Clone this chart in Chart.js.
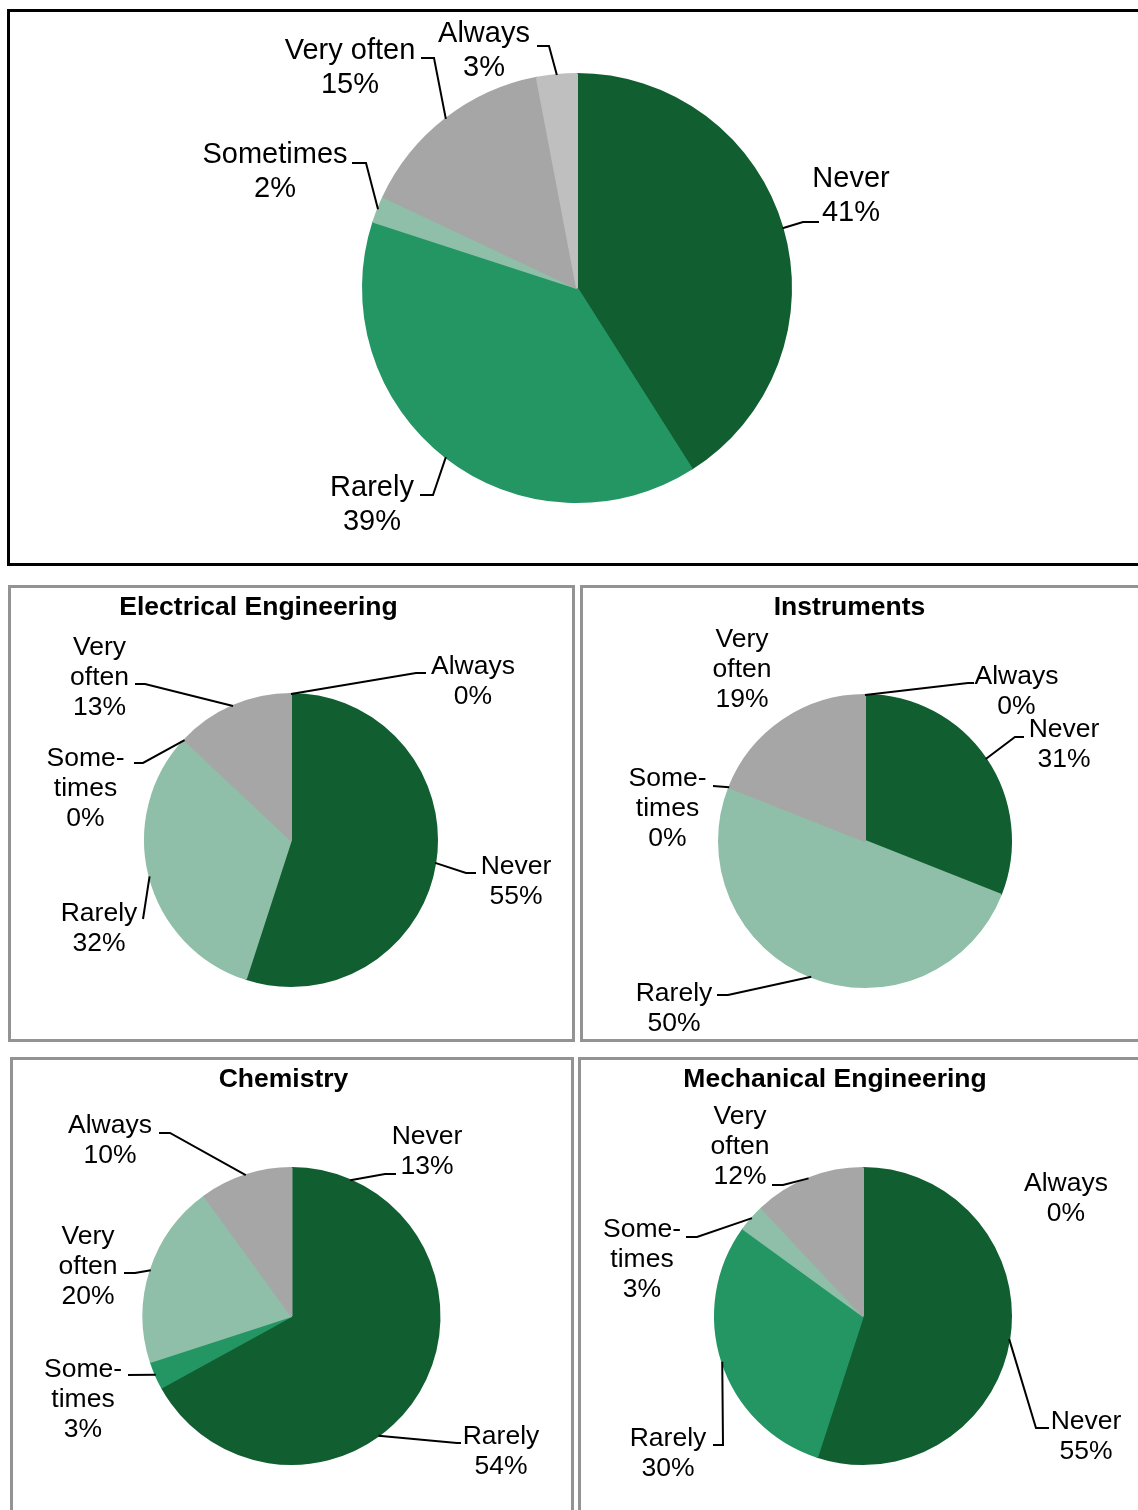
<!DOCTYPE html>
<html>
<head>
<meta charset="utf-8">
<script src="https://cdn.jsdelivr.net/npm/chart.js@4.4.1/dist/chart.umd.min.js"></script>
<style>
  body { margin: 0; background: #fff; }
  #page { position: relative; width: 1138px; height: 1510px; overflow: hidden; background: #fff; }
  .box { position: absolute; box-sizing: border-box; }
  .box.main { border: 3px solid #000; }
  .box.dept { border: 3px solid #939393; }
  canvas { position: absolute; left: 0; top: 0; }
</style>
</head>
<body>
<div id="page">
  <div class="box main" style="left:7px;top:9px;width:1150px;height:557px"></div>
  <div class="box dept" style="left:8px;top:585px;width:567px;height:457px"></div>
  <div class="box dept" style="left:580px;top:585px;width:580px;height:457px"></div>
  <div class="box dept" style="left:10px;top:1057px;width:564px;height:480px"></div>
  <div class="box dept" style="left:578px;top:1057px;width:580px;height:480px"></div>
  <canvas id="allChart" width="1138" height="1510"></canvas>
  <canvas id="electricalChart" width="1138" height="1510"></canvas>
  <canvas id="instrumentsChart" width="1138" height="1510"></canvas>
  <canvas id="chemistryChart" width="1138" height="1510"></canvas>
  <canvas id="mechanicalChart" width="1138" height="1510"></canvas>
</div>
<script>
// Answer categories and share (%) per group
const categories = ['Never', 'Rarely', 'Sometimes', 'Very often', 'Always'];
const allDepartments = [41, 39, 2, 15, 3];
const electrical = [55, 32, 0, 13, 0];
const instruments = [31, 50, 0, 19, 0];
const chemistry = [13, 54, 3, 20, 10];
const mechanical = [55, 30, 3, 12, 0];

const DARK = '#115e31', MID = '#249664', LIGHT = '#8fbfa8', GREY = '#a6a6a6', PALE = '#bfbfbf';

// long names are broken over lines in the small panels
const wrapped = { 'Very often': ['Very', 'often'], 'Sometimes': ['Some-', 'times'] };

const W = 1138, H = 1510;
const TEXT_SHIFT = 2;

// Callout labels with elbow leader lines, plus the panel title
const calloutPlugin = {
  id: 'callouts',
  afterDatasetsDraw(chart, args, opts) {
    const ctx = chart.ctx;
    const arcs = chart.getDatasetMeta(0).data;
    const values = chart.data.datasets[0].data;
    const names = chart.data.labels;
    ctx.save();
    ctx.fillStyle = '#000';
    ctx.textAlign = 'center';
    ctx.textBaseline = 'middle';
    if (opts.title) {
      ctx.font = 'bold ' + opts.fontSize + 'px "Liberation Sans", Arial, sans-serif';
      ctx.fillText(opts.title.text, opts.title.x, opts.title.y + TEXT_SHIFT);
    }
    ctx.font = opts.fontSize + 'px "Liberation Sans", Arial, sans-serif';
    ctx.strokeStyle = '#000';
    ctx.lineWidth = 2;
    opts.spots.forEach((spot, i) => {
      const a = arcs[i].getProps(['x', 'y', 'startAngle', 'endAngle', 'outerRadius'], true);
      const mid = (a.startAngle + a.endAngle) / 2;
      const ax = a.x + Math.cos(mid) * a.outerRadius;
      const ay = a.y + Math.sin(mid) * a.outerRadius;
      if (spot.elbow) {
        ctx.beginPath();
        ctx.moveTo(ax, ay);
        ctx.lineTo(spot.elbow[0], spot.elbow[1]);
        if (spot.end) ctx.lineTo(spot.end[0], spot.end[1]);
        ctx.stroke();
      }
      const name = names[i];
      const lines = (opts.wrap && wrapped[name]) ? wrapped[name].slice() : [name];
      lines.push(values[i] + '%');
      lines.forEach((t, k) => ctx.fillText(t, spot.x, spot.y + TEXT_SHIFT + k * opts.lineHeight));
    });
    ctx.restore();
  }
};

function makePie(canvasId, values, colors, pie, callouts) {
  const canvas = document.getElementById(canvasId);
  if (!canvas) return;
  new Chart(canvas, {
    type: 'pie',
    data: {
      labels: categories,
      datasets: [{
        data: values,
        backgroundColor: colors,
        // an edge in the slice's own colour closes the seams between slices
        borderColor: colors,
        borderWidth: values.map(v => v > 0 ? 2 : 0)
      }]
    },
    options: {
      responsive: false,
      animation: false,
      events: [],
      layout: {
        padding: {
          left: pie.cx - pie.r,
          top: pie.cy - pie.r,
          right: W - pie.cx - pie.r,
          bottom: H - pie.cy - pie.r
        }
      },
      plugins: { legend: { display: false }, tooltip: { enabled: false }, callouts }
    },
    plugins: [calloutPlugin]
  });
}

// All departments
makePie('allChart', allDepartments, [DARK, MID, LIGHT, GREY, PALE],
  { cx: 577, cy: 288, r: 215 },
  {
    fontSize: 29, lineHeight: 34, wrap: false,
    spots: [
      { x: 851, y: 177, elbow: [803, 222], end: [819, 222] },
      { x: 372, y: 486, elbow: [433, 495], end: [420, 495] },
      { x: 275, y: 153, elbow: [366, 163], end: [352, 163] },
      { x: 350, y: 49, elbow: [434, 58], end: [421, 58] },
      { x: 484, y: 32, elbow: [549, 46], end: [537, 46] }
    ]
  });

makePie('electricalChart', electrical, [DARK, LIGHT, MID, GREY, PALE],
  { cx: 291, cy: 840, r: 147 },
  {
    fontSize: 26.5, lineHeight: 30, wrap: true,
    title: { text: 'Electrical Engineering', x: 258.5, y: 606 },
    spots: [
      { x: 516, y: 865, elbow: [466, 873], end: [476, 873] },
      { x: 99, y: 912, elbow: [143, 919] },
      { x: 85.5, y: 757, elbow: [143, 763], end: [134, 763] },
      { x: 99.5, y: 646, elbow: [145, 684], end: [135, 684] },
      { x: 473, y: 665, elbow: [416, 673], end: [426, 673] }
    ]
  });

makePie('instrumentsChart', instruments, [DARK, LIGHT, MID, GREY, PALE],
  { cx: 865, cy: 841, r: 147 },
  {
    fontSize: 26.5, lineHeight: 30, wrap: true,
    title: { text: 'Instruments', x: 849.5, y: 606 },
    spots: [
      { x: 1064, y: 728, elbow: [1015, 737], end: [1024, 737] },
      { x: 674, y: 992, elbow: [728, 995], end: [717, 995] },
      { x: 667.5, y: 777, elbow: [713, 786] },
      { x: 742, y: 638 },
      { x: 1016.5, y: 675, elbow: [968, 683], end: [974, 683] }
    ]
  });

makePie('chemistryChart', chemistry, [DARK, DARK, MID, LIGHT, GREY],
  { cx: 291.5, cy: 1316, r: 149 },
  {
    fontSize: 26.5, lineHeight: 30, wrap: true,
    title: { text: 'Chemistry', x: 283.5, y: 1078 },
    spots: [
      { x: 427, y: 1135, elbow: [385, 1174], end: [396, 1174] },
      { x: 501, y: 1435, elbow: [457, 1443], end: [461, 1443] },
      { x: 83, y: 1368, elbow: [128, 1375] },
      { x: 88, y: 1235, elbow: [135, 1273], end: [124, 1273] },
      { x: 110, y: 1124, elbow: [170, 1133], end: [159, 1133] }
    ]
  });

makePie('mechanicalChart', mechanical, [DARK, MID, LIGHT, GREY, PALE],
  { cx: 863, cy: 1316, r: 149 },
  {
    fontSize: 26.5, lineHeight: 30, wrap: true,
    title: { text: 'Mechanical Engineering', x: 835, y: 1078 },
    spots: [
      { x: 1086, y: 1420, elbow: [1036, 1428], end: [1049, 1428] },
      { x: 668, y: 1437, elbow: [723, 1445], end: [713, 1445] },
      { x: 642, y: 1228, elbow: [697, 1237], end: [686, 1237] },
      { x: 740, y: 1115, elbow: [783, 1185], end: [772, 1185] },
      { x: 1066, y: 1182 }
    ]
  });
</script>
</body>
</html>
